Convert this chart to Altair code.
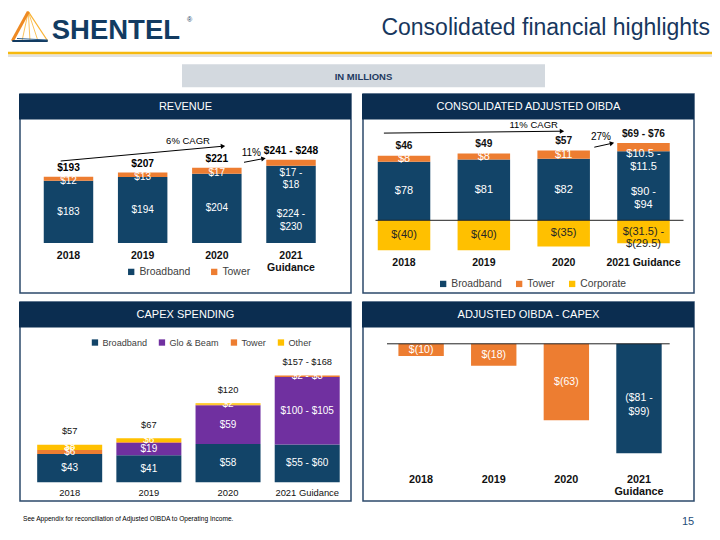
import altair as alt
import pandas as pd

FONT = "Liberation Sans"
NAVY = "#124468"
HDR = "#0B2D50"
ORANGE = "#ED7D31"
YELLOW = "#FFC000"
PURPLE = "#7030A0"
TITLE_BLUE = "#17375E"
BORDER = "#2C4A6B"

YEARS = ["2018", "2019", "2020", "2021"]

# ---- Revenue ----
REV_BROADBAND = [183, 194, 204, 227]
REV_TOWER = [12, 13, 17, 17.5]
REV_BROADBAND_LBL = ["$183", "$194", "$204", "$224 -\n$230"]
REV_TOWER_LBL = ["$12", "$13", "$17", "$17 -\n$18"]
REV_TOTAL_LBL = ["$193", "$207", "$221", "$241 - $248"]
REV_YEAR_LBL = ["2018", "2019", "2020", "2021\nGuidance"]

# ---- Consolidated adjusted OIBDA ----
OIBDA_BROADBAND = [78, 81, 82, 92]
OIBDA_TOWER = [8, 8, 11, 11]
OIBDA_CORPORATE = [-40, -40, -35, -30.5]
OIBDA_BROADBAND_LBL = ["$78", "$81", "$82", "$90 -\n$94"]
OIBDA_TOWER_LBL = ["$8", "$8", "$11", "$10.5 -\n$11.5"]
OIBDA_CORPORATE_LBL = ["$(40)", "$(40)", "$(35)", "$(31.5) -\n$(29.5)"]
OIBDA_TOTAL_LBL = ["$46", "$49", "$57", "$69 - $76"]
OIBDA_YEAR_LBL = ["2018", "2019", "2020", "2021 Guidance"]

# ---- Capex ----
CAPEX_BROADBAND = [43, 41, 58, 57.5]
CAPEX_GLO = [0, 19, 59, 102.5]
CAPEX_TOWER = [6, 1, 1, 2.5]
CAPEX_OTHER = [8, 6, 2, 0]
CAPEX_BROADBAND_LBL = ["$43", "$41", "$58", "$55 - $60"]
CAPEX_GLO_LBL = ["", "$19", "$59", "$100 - $105"]
CAPEX_TOWER_LBL = ["$6", "", "", "$2 - $3"]
CAPEX_OTHER_LBL = ["$8", "$6", "$2", ""]
CAPEX_TOTAL_LBL = ["$57", "$67", "$120", "$157 - $168"]
CAPEX_YEAR_LBL = ["2018", "2019", "2020", "2021 Guidance"]

# ---- Adjusted OIBDA - Capex ----
ADJ_VALUES = [-10, -18, -63, -90]
ADJ_LBL = ["$(10)", "$(18)", "$(63)", "($81 -\n$99)"]
ADJ_YEAR_LBL = ["2018", "2019", "2020", "2021\nGuidance"]

ONE = pd.DataFrame({"k": [0]})


def stack(series):
    rows, tops = [], []
    for i, yr in enumerate(YEARS):
        pos = neg = 0.0
        for name, vals, lbls in series:
            v = vals[i]
            if v >= 0:
                y0, y1 = pos, pos + v
                pos = y1
            else:
                y0, y1 = neg, neg + v
                neg = y1
            rows.append({"year": yr, "series": name, "y0": y0, "y1": y1,
                         "mid": (y0 + y1) / 2, "label": lbls[i],
                         "multi": "\n" in lbls[i], "neg": v < 0})
        tops.append(pos)
    return pd.DataFrame(rows), tops


def xband(rng, p):
    return alt.Scale(type="band", domain=YEARS, range=rng, paddingInner=p, paddingOuter=p / 2)


def ylin(dom, rng):
    return alt.Scale(type="linear", domain=dom, range=rng, nice=False, zero=False)


def bars(df, xs, ys, cfield, cdom, crng, legend):
    return alt.Chart(df).mark_bar().encode(
        x=alt.X("year:N", scale=xs, axis=None),
        y=alt.Y("y0:Q", scale=ys, axis=None),
        y2="y1:Q",
        color=alt.Color(f"{cfield}:N", scale=alt.Scale(domain=cdom, range=crng), legend=legend),
    )


def texts(df, xs, ys, yfield, **mark):
    mark.setdefault("font", FONT)
    mark.setdefault("lineBreak", "\n")
    return alt.Chart(df).mark_text(**mark).encode(
        x=alt.X("year:N", scale=xs, axis=None),
        y=alt.Y(f"{yfield}:Q", scale=ys, axis=None),
        text="label:N",
    )


def year_texts(lbls, xs, y, **mark):
    mark.setdefault("font", FONT)
    mark.setdefault("lineBreak", "\n")
    df = pd.DataFrame({"year": YEARS, "label": lbls})
    return alt.Chart(df).mark_text(**mark).encode(
        x=alt.X("year:N", scale=xs, axis=None),
        y=alt.value(y),
        text="label:N",
    )


def deco_rect(x, x2, y, y2, **kw):
    return alt.Chart(ONE).mark_rect(**kw).encode(
        x=alt.value(x), x2=alt.value(x2), y=alt.value(y), y2=alt.value(y2))


def deco_rule(x, y, x2, y2, **kw):
    return alt.Chart(ONE).mark_rule(**kw).encode(
        x=alt.value(x), y=alt.value(y), x2=alt.value(x2), y2=alt.value(y2))


def deco_text(x, y, text, **kw):
    kw.setdefault("font", FONT)
    return alt.Chart(ONE).mark_text(text=text, **kw).encode(x=alt.value(x), y=alt.value(y))


def arrow(x, y, x2, y2, angle):
    line = deco_rule(x, y, x2, y2, color="black", strokeWidth=1)
    head = alt.Chart(ONE).mark_point(shape="triangle-right", filled=True, size=26,
                                     angle=angle, color="black", opacity=1).encode(
        x=alt.value(x2), y=alt.value(y2))
    return [line, head]


def legend(x, y, size, pad):
    return alt.Legend(orient="none", legendX=x, legendY=y, direction="horizontal", title=None,
                      symbolType="square", symbolSize=40, symbolStrokeWidth=0,
                      labelFont=FONT, labelFontSize=size, labelColor="#404040",
                      columnPadding=pad, labelOffset=3, padding=0, labelLimit=0)


layers = []

# ---------- slide decorations ----------
layers += [
    deco_rect(-8, 712, 43.7, 46.5, color="#F6B90F"),
    deco_rect(-8, 712, 46.5, 49, color="#E2E2E2"),
    deco_rect(174, 537, 56.3, 79.3, color="#D3D9DF"),
    deco_text(355.5, 69, "IN MILLIONS", fontSize=9.5,
              fontWeight="bold", color="#1F3A5F", align="center", baseline="middle"),
    deco_text(702, 20, "Consolidated financial highlights", fontSize=23, color=TITLE_BLUE,
              align="right", baseline="middle"),
    deco_text(43.7, 22.8, "SHENTEL", fontSize=27.5, fontWeight="bold", color="#123B61",
              align="left", baseline="middle"),
    deco_text(179, 12, "\u00ae", fontSize=7, color="#123B61", align="left", baseline="middle"),
    # logo triangle
    deco_rule(20.3, 3.7, 39.7, 33, color="#F9B233", strokeWidth=1.2),
    deco_rule(20.3, 3.7, 14, 33, color="#F9B233", strokeWidth=0.8),
    deco_rule(20.3, 3.7, 22, 33, color="#F9B233", strokeWidth=0.8),
    deco_rule(20.3, 3.7, 30, 33, color="#F9B233", strokeWidth=0.8),
    deco_rule(20.3, 3.7, 4.3, 33, color="#EE8A24", strokeWidth=3),
    deco_rule(4.3, 33, 39.7, 33, color="#123B61", strokeWidth=2),
    deco_rule(9, 30.5, 39.7, 32, color="#2B5C8A", strokeWidth=1),
    # footer
    deco_text(15, 511, "See Appendix for reconciliation of Adjusted OIBDA to Operating Income.",
              fontSize=6.6, color="#000000", align="left", baseline="middle"),
    deco_text(680, 514, "15", fontSize=11, color="#1F4E79", align="center", baseline="middle"),
]

# panel frames and headers
for (x0, x1, y0, y1, title) in [
    (12, 343, 86, 285, "REVENUE"),
    (355, 686, 86, 285, "CONSOLIDATED ADJUSTED OIBDA"),
    (12, 343, 294, 493, "CAPEX SPENDING"),
    (355, 686, 294, 493, "ADJUSTED OIBDA - CAPEX"),
]:
    layers += [
        deco_rect(x0, x1, y0, y1, fillOpacity=0, stroke=BORDER, strokeWidth=1.5),
        deco_rect(x0 - 1, x1, y0, y0 + 25.5, color=HDR),
        deco_text((x0 + x1) / 2, y0 + 13.3, title, fontSize=11, color="white",
                  align="center", baseline="middle"),
    ]

# ---------- Revenue ----------
rev_x = xband([23.4, 320.1], 0.333)
rev_y = ylin([0, 300], [235, 133])
rev_df, rev_tops = stack([("Broadband", REV_BROADBAND, REV_BROADBAND_LBL),
                          ("Tower", REV_TOWER, REV_TOWER_LBL)])
rev_tot = pd.DataFrame({"year": YEARS, "top": rev_tops, "label": REV_TOTAL_LBL})
layers += [
    bars(rev_df, rev_x, rev_y, "series", ["Broadband", "Tower"], [NAVY, ORANGE],
         legend(118, 258.5, 10.4, 18)),
    texts(rev_df[(~rev_df.multi) & (rev_df.series == "Broadband")], rev_x, rev_y, "mid",
          fontSize=10, color="white", baseline="middle"),
    texts(rev_df[(~rev_df.multi) & (rev_df.series == "Tower")], rev_x, rev_y, "mid",
          fontSize=10, color="white", baseline="middle", dy=2.5),
    texts(rev_df[rev_df.multi], rev_x, rev_y, "mid",
          fontSize=10, color="white", baseline="middle", dy=10, lineHeight=12.5),
    texts(rev_tot, rev_x, rev_y, "top", fontSize=10.2, fontWeight="bold", color="black",
          baseline="middle", dy=-8.5),
    year_texts(REV_YEAR_LBL, rev_x, 243.2, fontSize=10.5, fontWeight="bold", color="#111111",
               baseline="top", lineHeight=12),
    deco_text(180, 132.7, "6% CAGR", fontSize=9.5, color="black", align="center", baseline="middle"),
    deco_text(243.3, 145.3, "11%", fontSize=10, color="black", align="center", baseline="middle"),
]
layers += arrow(52.7, 153, 215, 138.2, 354.8)
layers += arrow(236, 154.3, 255.5, 150.6, 349.4)

# ---------- Consolidated Adjusted OIBDA ----------
oi_x = xband([356.1, 675.4], 0.342)
oi_y = ylin([-50, 120], [249.8, 122.3])
oi_df, oi_tops = stack([("Broadband", OIBDA_BROADBAND, OIBDA_BROADBAND_LBL),
                        ("Tower", OIBDA_TOWER, OIBDA_TOWER_LBL),
                        ("Corporate", OIBDA_CORPORATE, OIBDA_CORPORATE_LBL)])
oi_tot = pd.DataFrame({"year": YEARS, "top": oi_tops, "label": OIBDA_TOTAL_LBL})
layers += [
    bars(oi_df, oi_x, oi_y, "series", ["Broadband", "Tower", "Corporate"], [NAVY, ORANGE, YELLOW],
         legend(430, 270.5, 10.3, 12)),
    alt.Chart(ONE).mark_rule(color="#222222", strokeWidth=1).encode(
        y=alt.YDatum(0, scale=oi_y, axis=None), x=alt.value(367.5), x2=alt.value(675.5)),
    texts(oi_df[(~oi_df.multi) & (~oi_df.neg)], oi_x, oi_y, "mid",
          fontSize=11, color="white", baseline="middle"),
    texts(oi_df[(oi_df.multi) & (~oi_df.neg)], oi_x, oi_y, "mid",
          fontSize=11, color="white", baseline="middle", dy=6.5, lineHeight=13),
    texts(oi_df[oi_df.neg], oi_x, oi_y, "mid",
          fontSize=11, color="#262626", baseline="middle", lineHeight=12),
    texts(oi_tot, oi_x, oi_y, "top", fontSize=10.2, fontWeight="bold", color="#111111",
          baseline="middle", dy=-9.5),
    year_texts(OIBDA_YEAR_LBL, oi_x, 255.4, fontSize=10.5, fontWeight="bold", color="#111111",
               baseline="middle"),
    deco_text(525.7, 117.3, "11% CAGR", fontSize=9.5, color="black", align="center", baseline="middle"),
    deco_text(593, 129.1, "27%", fontSize=10, color="black", align="center", baseline="middle"),
]
layers += arrow(375.9, 125.1, 554, 123.2, 359.4)
layers += arrow(586.3, 139.2, 604, 135.3, 347.6)

# ---------- Capex ----------
cx_x = xband([22.1, 338.8], 0.179)
cx_y = ylin([0, 200], [474.2, 342.8])
cx_df, cx_tops = stack([("Broadband", CAPEX_BROADBAND, CAPEX_BROADBAND_LBL),
                        ("Glo & Beam", CAPEX_GLO, CAPEX_GLO_LBL),
                        ("Tower", CAPEX_TOWER, CAPEX_TOWER_LBL),
                        ("Other", CAPEX_OTHER, CAPEX_OTHER_LBL)])
cx_tot = pd.DataFrame({"year": YEARS, "top": cx_tops, "label": CAPEX_TOTAL_LBL})
layers += [
    bars(cx_df[cx_df.y1 > cx_df.y0], cx_x, cx_y, "series",
         ["Broadband", "Glo & Beam", "Tower", "Other"], [NAVY, PURPLE, ORANGE, YELLOW],
         legend(82.4, 329.8, 9.1, 10)),
    texts(cx_df[cx_df.label != ""], cx_x, cx_y, "mid", fontSize=10, color="white", baseline="middle"),
    texts(cx_tot, cx_x, cx_y, "top", fontSize=9.3, color="#111111", baseline="middle", dy=-13.5),
    year_texts(CAPEX_YEAR_LBL, cx_x, 484.6, fontSize=9.4, color="#111111", baseline="middle"),
]

# ---------- Adjusted OIBDA - Capex ----------
ad_x = xband([376.8, 667.3], 0.375)
ad_y = ylin([-100, 0], [457.3, 335.8])
ad_df = pd.DataFrame({"year": YEARS, "y0": [0.0] * 4, "y1": ADJ_VALUES,
                      "mid": [v / 2 for v in ADJ_VALUES], "label": ADJ_LBL})
layers += [
    bars(ad_df, ad_x, ad_y, "year", YEARS, [ORANGE, ORANGE, ORANGE, NAVY], None),
    alt.Chart(ONE).mark_rule(color="#222222", strokeWidth=1).encode(
        y=alt.YDatum(0, scale=ad_y, axis=None), x=alt.value(379), x2=alt.value(661.7)),
    texts(ad_df, ad_x, ad_y, "mid", fontSize=10.5, color="white", baseline="middle", lineHeight=13.5),
    year_texts(ADJ_YEAR_LBL, ad_x, 465.9, fontSize=10.8, fontWeight="bold", color="#111111",
               baseline="top", lineHeight=12.4),
]

chart = alt.layer(*layers).resolve_scale(
    x="independent", y="independent", color="independent"
).properties(
    width=704, height=524, padding=0,
    autosize=alt.AutoSizeParams(type="none"),
    background="white",
).configure_view(stroke=None)

chart.save("out.html", embed_options={"renderer": "svg", "actions": False})
